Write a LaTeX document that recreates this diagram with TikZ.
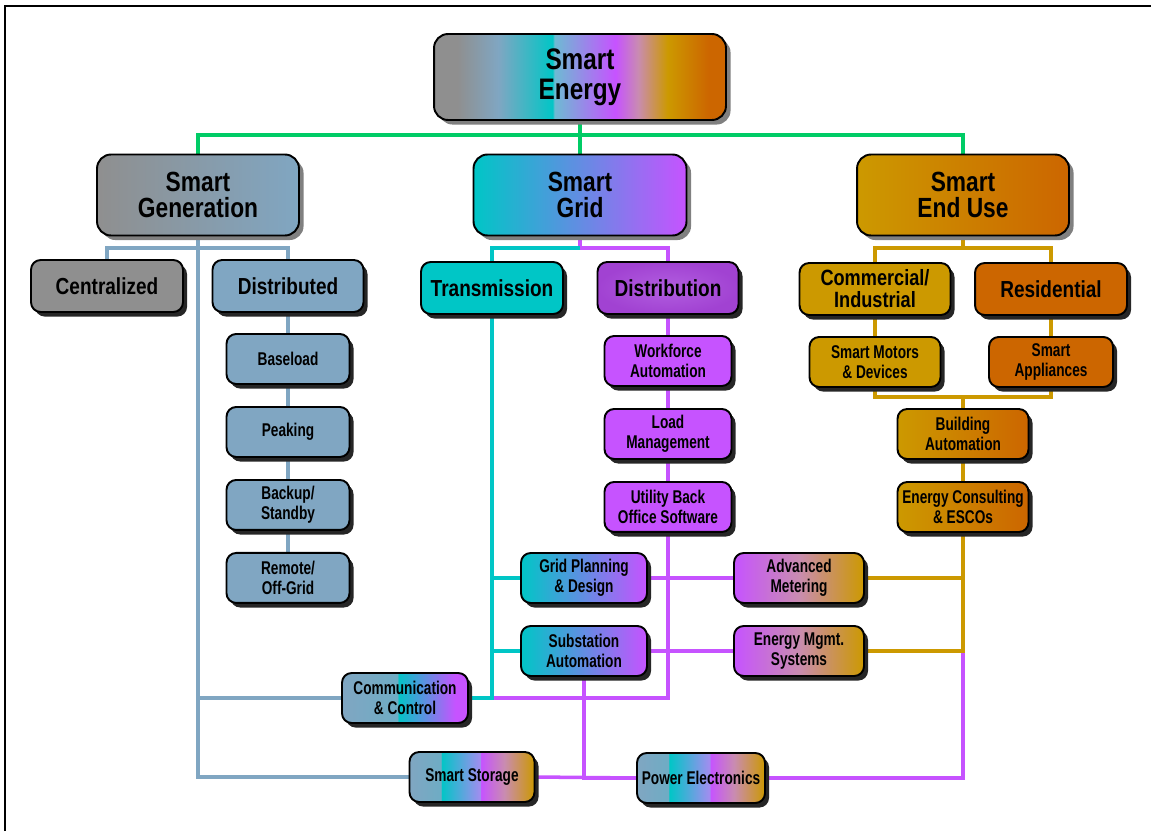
\documentclass[tikz,border=0pt]{standalone}
\usepackage{fontspec}
\setmainfont{Liberation Sans}
\newfontfamily\bigfont{Liberation Sans}[FakeStretch=0.82]
\newfontfamily\smallfont{Liberation Sans}[FakeStretch=0.74]
\usetikzlibrary{positioning, shadows, backgrounds}

\definecolor{gengray}{HTML}{8F8F8F}
\definecolor{genblue}{HTML}{80A6C2}
\definecolor{commblue}{HTML}{6EACC4}
\definecolor{gridteal}{HTML}{00C6C6}
\definecolor{gridviolet}{HTML}{C653FF}
\definecolor{distpurple}{HTML}{A142D2}
\definecolor{distglow}{HTML}{B25EE0}
\definecolor{usegold}{HTML}{CC9900}
\definecolor{useorange}{HTML}{CC6600}
\definecolor{skyband}{HTML}{6CBCD2}
\definecolor{lavband}{HTML}{A48CF0}
\definecolor{pinkband}{HTML}{C98CB0}
\definecolor{topgreen}{HTML}{00CC66}

\pgfdeclarehorizontalshading{energyband}{100bp}{color(0bp)=(gengray); color(29bp)=(gengray); color(36bp)=(genblue); color(45.4bp)=(gridteal); color(45.5bp)=(skyband); color(56bp)=(gridviolet); color(56.1bp)=(gridviolet); color(60bp)=(pinkband); color(65bp)=(usegold); color(72bp)=(useorange); color(100bp)=(useorange)}
\pgfdeclarehorizontalshading{commband}{100bp}{color(0bp)=(genblue); color(25bp)=(genblue); color(47bp)=(commblue); color(47.1bp)=(gridteal); color(70bp)=(gridviolet); color(100bp)=(gridviolet)}
\pgfdeclarehorizontalshading{storeband}{100bp}{color(0bp)=(genblue); color(25bp)=(genblue); color(37.5bp)=(commblue); color(37.6bp)=(gridteal); color(53.5bp)=(lavband); color(53.6bp)=(gridviolet); color(63bp)=(pinkband); color(75bp)=(usegold); color(100bp)=(usegold)}

\begin{document}
\begin{tikzpicture}[x=0.02cm, y=-0.02cm, node distance=1.46cm,
  box/.style = {draw, line width=1.1pt, align=center, inner sep=0pt, text=black},
  lightshade/.style = {drop shadow={shadow xshift=2.6pt, shadow yshift=-2.6pt, fill=black!50, opacity=1}},
  darkshade/.style = {drop shadow={shadow xshift=2.3pt, shadow yshift=-2.6pt, fill=black!85, opacity=1}},
  topbox/.style = {box, lightshade, rounded corners=8pt, minimum width=5.84cm, minimum height=1.72cm, font=\bigfont\bfseries\fontsize{16.9}{17}\selectfont},
  bigbox/.style = {box, lightshade, rounded corners=8pt, minimum height=1.62cm, font=\bigfont\bfseries\fontsize{15.8}{15.3}\selectfont},
  midbox/.style = {box, darkshade, rounded corners=5.5pt, minimum height=1.04cm, font=\bigfont\bfseries\fontsize{13.2}{12.5}\selectfont},
  smallbox/.style = {box, darkshade, rounded corners=5.5pt, minimum height=1cm, font=\smallfont\bfseries\fontsize{10.5}{11.3}\selectfont},
  wire/.style = {line width=2pt}]
\useasboundingbox (0,0) rectangle (1151,831);
\draw[line width=1.2pt] (5,831) -- (5,6) -- (1151,6);

% top and main branches
\node[topbox, shading=energyband] (energy) at (580,77) {Smart\\Energy};
\node[bigbox, minimum width=4.04cm, left color=gengray, right color=genblue] (gen) at (198,195) {Smart\\Generation};
\node[bigbox, minimum width=4.26cm, left color=gridteal, right color=gridviolet] (grid) at (580,195) {Smart\\Grid};
\node[bigbox, minimum width=4.24cm, left color=usegold, right color=useorange] (enduse) at (963,195) {Smart\\End Use};

\node[midbox, minimum width=3.04cm, fill=gengray] (central) at (107,286) {Centralized};
\node[midbox, minimum width=3.02cm, fill=genblue] (distrib) at (288,286) {Distributed};
\node[midbox, minimum width=2.84cm, fill=gridteal] (trans) at (492,288) {Transmission};
\node[midbox, minimum width=2.82cm, inner color=distglow, outer color=distpurple] (distr) at (668,288) {Distribution};
\node[midbox, minimum width=3.02cm, fill=usegold, font=\bigfont\bfseries\fontsize{12.6}{12.5}\selectfont] (commind) at (875,289) {Commercial/\\Industrial};
\node[midbox, minimum width=3.04cm, fill=useorange] (resid) at (1051,289) {Residential};

% generation column
\node[smallbox, minimum width=2.46cm, fill=genblue, below of=distrib] (baseload) {Baseload};
\node[smallbox, minimum width=2.46cm, fill=genblue, below of=baseload] (peaking) {Peaking};
\node[smallbox, minimum width=2.46cm, fill=genblue, below of=peaking] (backup) {Backup/\\Standby};
\node[smallbox, minimum width=2.46cm, fill=genblue, below of=backup] (remote) {Remote/\\Off-Grid};

% grid column
\node[smallbox, minimum width=2.54cm, fill=gridviolet, below of=distr] (workforce) {Workforce\\Automation};
\node[smallbox, minimum width=2.54cm, fill=gridviolet, below of=workforce] (loadmgmt) {Load\\Management};
\node[smallbox, minimum width=2.54cm, fill=gridviolet, below of=loadmgmt] (backoffice) {Utility Back\\Office Software};
\node[smallbox, minimum width=2.52cm, left color=gridteal, right color=gridviolet] (planning) at (584,578) {Grid Planning\\\& Design};
\node[smallbox, minimum width=2.52cm, left color=gridteal, right color=gridviolet, below of=planning] (substation) {Substation\\Automation};
\node[smallbox, minimum width=2.6cm, left color=gridviolet, right color=usegold, middle color=pinkband] (metering) at (799,578) {Advanced\\Metering};
\node[smallbox, minimum width=2.6cm, left color=gridviolet, right color=usegold, middle color=pinkband, below of=metering] (ems) {Energy Mgmt.\\Systems};

% end use column
\node[smallbox, minimum width=2.62cm, fill=usegold, below of=commind] (motors) {Smart Motors\\\& Devices};
\node[smallbox, minimum width=2.48cm, fill=useorange, below of=resid] (appliances) {Smart\\Appliances};
\node[smallbox, minimum width=2.62cm, left color=usegold, right color=useorange] (building) at (963,434) {Building\\Automation};
\node[smallbox, minimum width=2.62cm, left color=usegold, right color=useorange, below of=building] (consult) {Energy Consulting\\\& ESCOs};

% shared technologies
\node[smallbox, minimum width=2.52cm, shading=commband] (comm) at (405,698) {Communication\\\& Control};
\node[smallbox, minimum width=2.5cm, shading=storeband] (storage) at (472,777) {Smart Storage};
\node[smallbox, minimum width=2.56cm, shading=storeband] (power) at (701,778) {Power Electronics};

\begin{scope}[on background layer]
\coordinate (tophub) at (580,135);
\coordinate (genhub) at (198,248);
\coordinate (gridhub) at (580,248);
\coordinate (usehub) at (963,248);
\coordinate (bldhub) at (963,397);

\draw[wire, topgreen] (energy.south) -- (tophub);
\draw[wire, topgreen] (gen.north) |- (tophub) -| (enduse.north);
\draw[wire, topgreen] (tophub) -- (grid.north);

\draw[wire, genblue] (central.north) |- (genhub) -| (distrib.north);
\draw[wire, genblue] (gen.south) |- (comm.west);
\draw[wire, genblue] (gen.south) |- (storage.west);
\draw[wire, genblue] (distrib.south) -- (baseload.north);
\draw[wire, genblue] (baseload.south) -- (peaking.north);
\draw[wire, genblue] (peaking.south) -- (backup.north);
\draw[wire, genblue] (backup.south) -- (remote.north);

\draw[wire, gridviolet] (grid.south) -- (gridhub) -| (distr.north);
\draw[wire, gridviolet] (distr.south) -- (workforce.north);
\draw[wire, gridviolet] (workforce.south) -- (loadmgmt.north);
\draw[wire, gridviolet] (loadmgmt.south) -- (backoffice.north);
\draw[wire, gridviolet] (backoffice.south) |- (trans.south |- comm.east);
\draw[wire, gridviolet] (planning.east) -- (metering.west);
\draw[wire, gridviolet] (substation.east) -- (ems.west);
\draw[wire, gridviolet] (substation.south) |- (power.west);
\draw[wire, gridviolet] (storage.east) -- (power.west);
\draw[wire, gridviolet] (power.east) -| (consult.south |- ems.east);
\draw[wire, gridteal] (gridhub) -| (trans.north);
\draw[wire, gridteal] (trans.south) |- (planning.west);
\draw[wire, gridteal] (trans.south) |- (substation.west);
\draw[wire, gridteal] (trans.south) |- (comm.east);

\draw[wire, usegold] (enduse.south) -- (usehub);
\draw[wire, usegold] (commind.north) |- (usehub) -| (resid.north);
\draw[wire, usegold] (commind.south) -- (motors.north);
\draw[wire, usegold] (resid.south) -- (appliances.north);
\draw[wire, usegold] (motors.south) |- (bldhub) -| (appliances.south);
\draw[wire, usegold] (bldhub) -- (building.north);
\draw[wire, usegold] (building.south) -- (consult.north);
\draw[wire, usegold] (metering.east) -| (consult.south);
\draw[wire, usegold] (ems.east) -| (consult.south);
\end{scope}
\end{tikzpicture}
\end{document}
